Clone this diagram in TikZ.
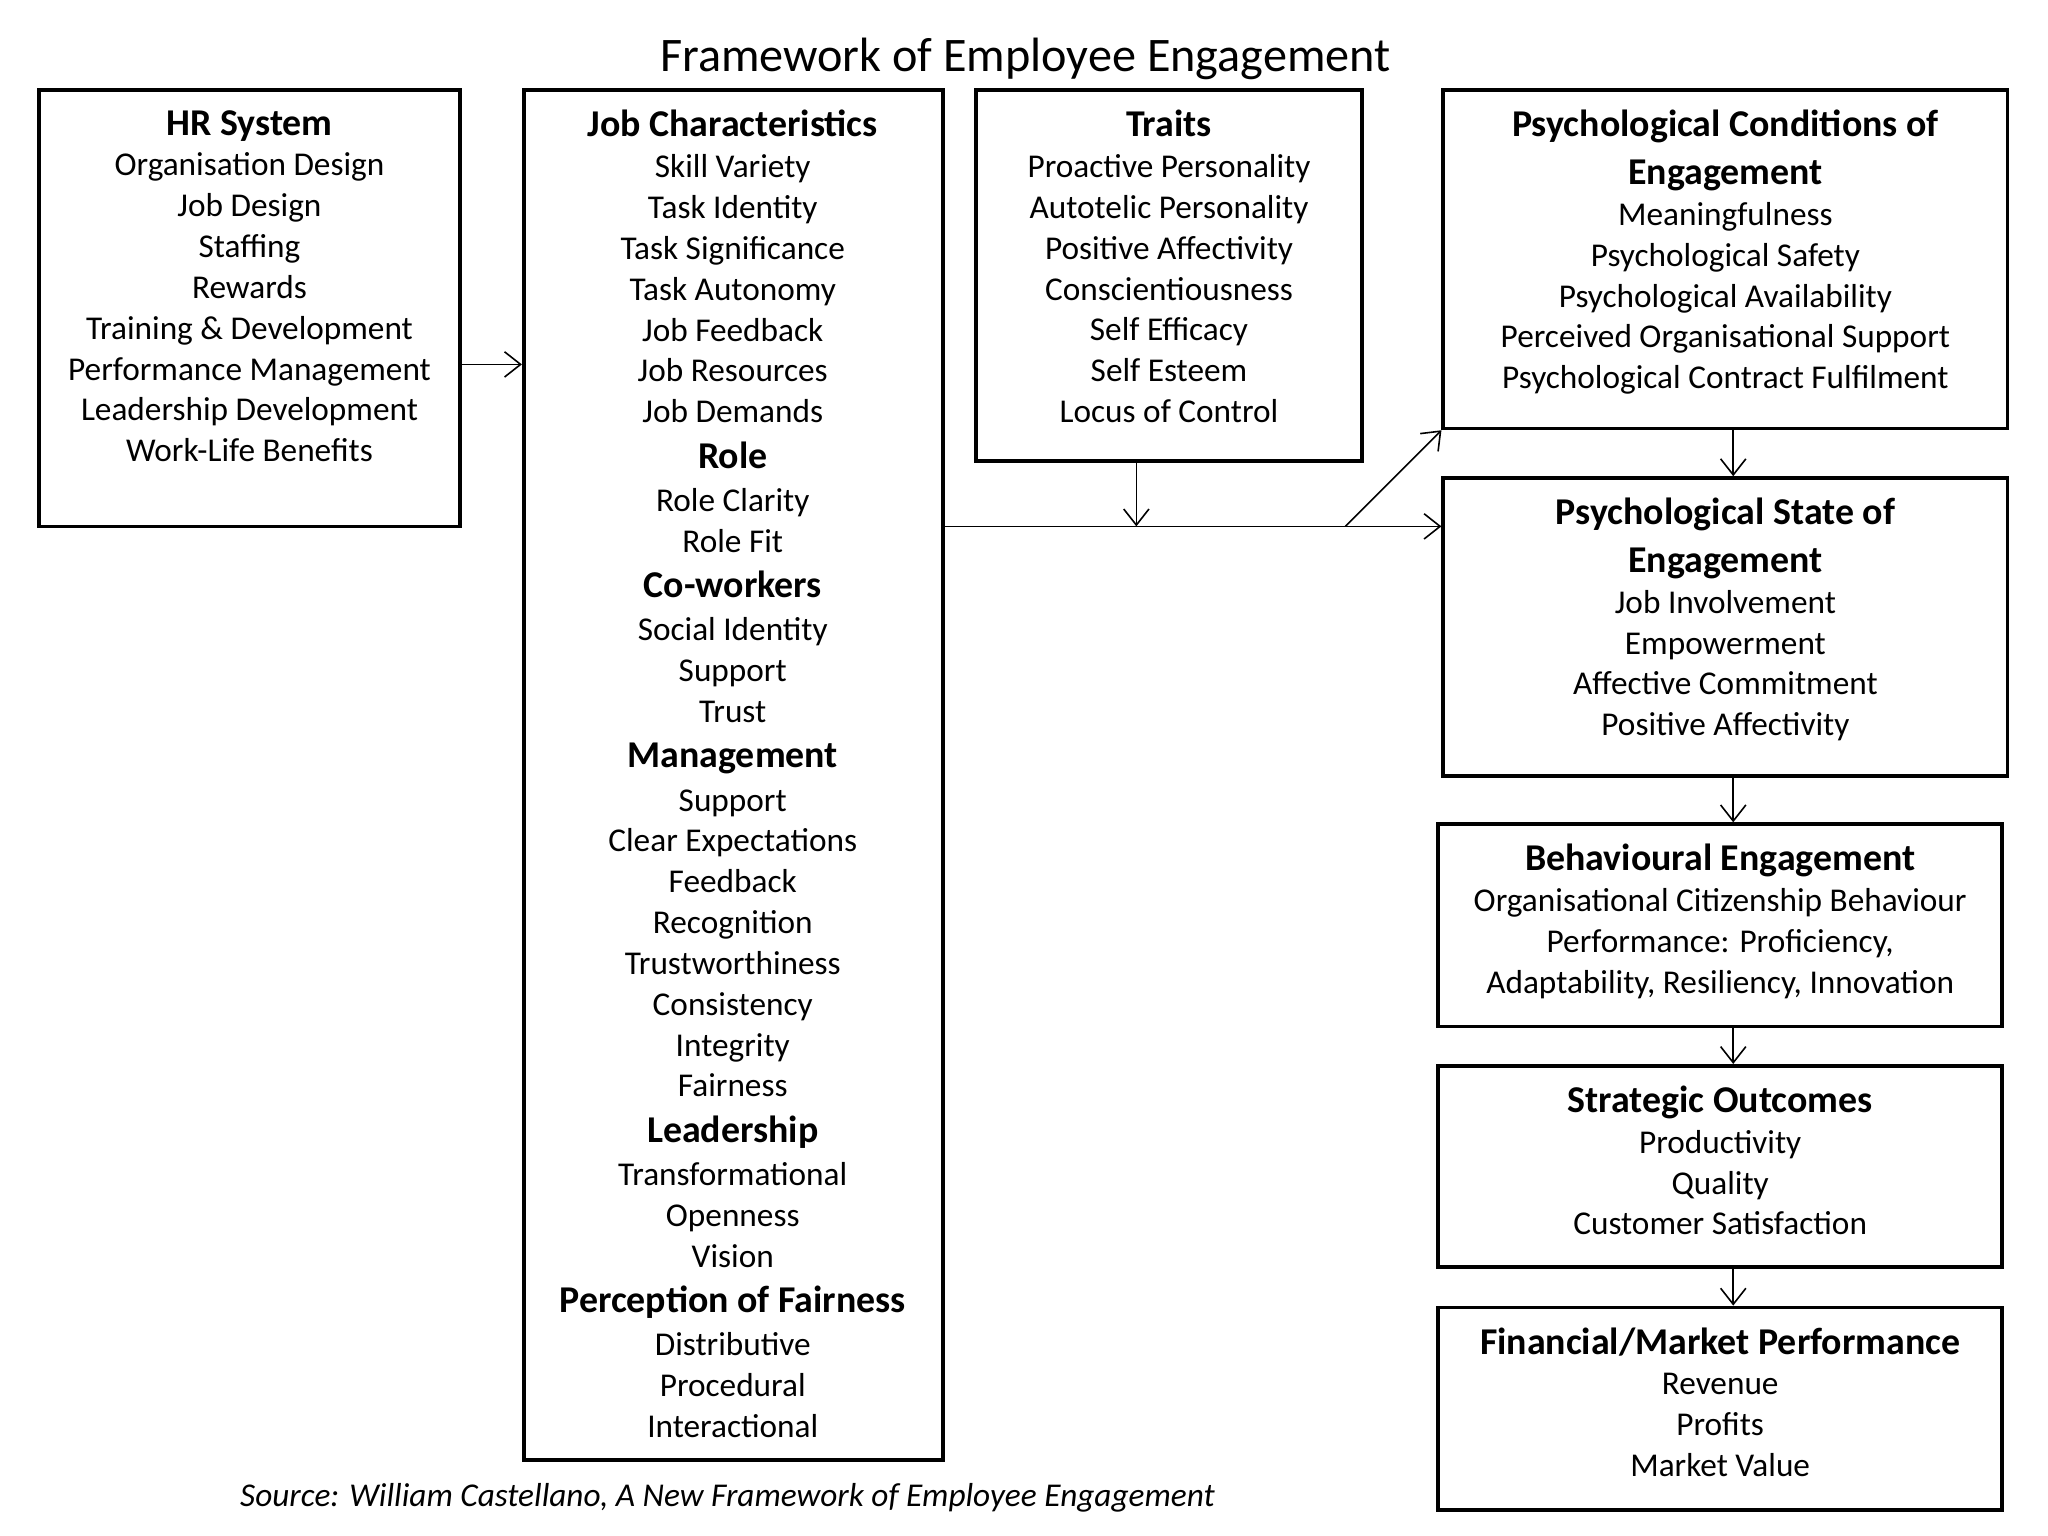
\documentclass[tikz,border=0pt]{standalone}
\usepackage{fontspec}
\setmainfont{Carlito}
\usetikzlibrary{arrows.meta}
\begin{document}
\begin{tikzpicture}[x=0.02cm,y=-0.02cm,
 box/.style={draw,line width=1.6pt,inner sep=0},
 txt/.style={anchor=north,align=center,inner sep=0,font=\fontsize{14.5}{17.8}\selectfont},
 arr/.style={-{Straight Barb[length=7pt,width=11pt]},line width=0.7pt}]
\newcommand{\hd}[1]{{\fontsize{16.5}{17.8}\selectfont\bfseries #1}}
\useasboundingbox (0,0) rectangle (1568,1176);
\node[font=\fontsize{21}{25}\selectfont] (title) at (785,45) {Framework of Employee Engagement};
\node[box,minimum width=322*0.02cm,minimum height=334*0.02cm] (hr) at (191,236) {};
\node[box,minimum width=321*0.02cm,minimum height=1049*0.02cm] (job) at (561.5,593.5) {};
\node[box,minimum width=296*0.02cm,minimum height=284*0.02cm] (tr) at (895,211) {};
\node[box,minimum width=432*0.02cm,minimum height=259*0.02cm] (pc) at (1321,198.5) {};
\node[box,minimum width=432*0.02cm,minimum height=228*0.02cm] (ps) at (1321,480) {};
\node[box,minimum width=432*0.02cm,minimum height=155*0.02cm] (be) at (1317,708.5) {};
\node[box,minimum width=432*0.02cm,minimum height=154*0.02cm] (so) at (1317,893) {};
\node[box,minimum width=432*0.02cm,minimum height=155*0.02cm] (fm) at (1317,1078.5) {};
\node[txt] (hrt) at (191,84) {\hd{HR System}\\Organisation Design\\Job Design\\Staffing\\Rewards\\Training \& Development\\Performance Management\\Leadership Development\\Work-Life Benefits};
\node[txt] (jobt) at (561,84) {\hd{Job Characteristics}\\Skill Variety\\Task Identity\\Task Significance\\Task Autonomy\\Job Feedback\\Job Resources\\Job Demands\\[2pt]\hd{Role}\\[1pt]Role Clarity\\Role Fit\\[2pt]\hd{Co-workers}\\[1pt]Social Identity\\Support\\Trust\\[2pt]\hd{Management}\\[1pt]Support\\Clear Expectations\\Feedback\\Recognition\\Trustworthiness\\Consistency\\Integrity\\Fairness\\[2pt]\hd{Leadership}\\[1pt]Transformational\\Openness\\Vision\\[2pt]\hd{Perception of Fairness}\\[1pt]Distributive\\Procedural\\Interactional};
\node[txt] (trt) at (895,84) {\hd{Traits}\\Proactive Personality\\Autotelic Personality\\Positive Affectivity\\Conscientiousness\\Self Efficacy\\Self Esteem\\Locus of Control};
\node[txt] (pct) at (1321,84) {\hd{Psychological Conditions of}\\[3pt]\hd{Engagement}\\Meaningfulness\\Psychological Safety\\Psychological Availability\\Perceived Organisational Support\\Psychological Contract Fulfilment};
\node[txt] (pst) at (1321,381) {\hd{Psychological State of}\\[3pt]\hd{Engagement}\\Job Involvement\\Empowerment\\Affective Commitment\\Positive Affectivity};
\node[txt] (bet) at (1317,646) {\hd{Behavioural Engagement}\\Organisational Citizenship Behaviour\\Performance: Proficiency,\\Adaptability, Resiliency, Innovation};
\node[txt] (sot) at (1317,831) {\hd{Strategic Outcomes}\\Productivity\\Quality\\Customer Satisfaction};
\node[txt] (fmt) at (1317,1016) {\hd{Financial/Market Performance}\\Revenue\\Profits\\Market Value};
\node[font=\fontsize{14.5}{17.8}\selectfont\itshape] (src) at (557,1147) {Source: William Castellano, A New Framework of Employee Engagement};
\coordinate (br) at (1030,403);
\coordinate (tj) at (870,403);
\draw[arr] (hr.east |- 0,279) -- (job.west |- 0,279);
\draw[arr] (job.east |- br) -- (ps.west |- br);
\draw[arr] (br) -- (pc.south west);
\draw[arr] (tr.south -| tj) -- (tj);
\draw[arr] (pc.south -| 1327,0) -- (ps.north -| 1327,0);
\draw[arr] (ps.south -| 1327,0) -- (be.north -| 1327,0);
\draw[arr] (be.south -| 1327,0) -- (so.north -| 1327,0);
\draw[arr] (so.south -| 1327,0) -- (fm.north -| 1327,0);
\end{tikzpicture}
\end{document}
